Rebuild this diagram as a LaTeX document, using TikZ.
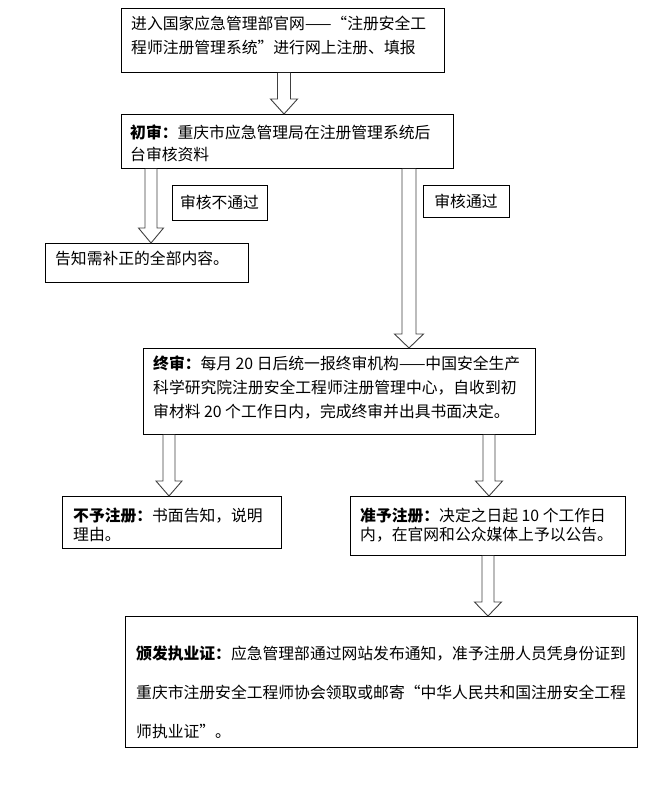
\documentclass[tikz,border=0pt]{standalone}
\usepackage{fontspec}
\setmainfont{Noto Sans CJK SC}
\usetikzlibrary{calc}
% #1 x centre, #2 source node, #3 target node, #4 shaft half width, #5 head half width, #6 head length
\newcommand\blockarr[6]{%
  \draw[barrow] let \p1=(#2.south), \p2=(#3.north) in
    ({(#1-#4)*1pt},\y1) -- ({(#1-#4)*1pt},{\y2+#6*1pt}) -- ({(#1-#5)*1pt},{\y2+#6*1pt})
    -- ({#1*1pt},\y2) -- ({(#1+#5)*1pt},{\y2+#6*1pt}) -- ({(#1+#4)*1pt},{\y2+#6*1pt})
    -- ({(#1+#4)*1pt},\y1);}
\begin{document}
\begin{tikzpicture}[x=1pt,y=-1pt,
  box/.style={draw, line width=0.9pt, inner sep=0pt, anchor=north west},
  txt/.style={inner sep=0pt, anchor=base west, align=left, font=\fontsize{15.8pt}{24pt}\selectfont},
  lbl/.style={draw, line width=0.9pt, inner sep=0pt, font=\fontsize{15.8pt}{20pt}\selectfont},
  barrow/.style={draw=black!75, line width=0.9pt, fill=white, line join=miter}]
\useasboundingbox (0,0) rectangle (652,796);
% boxes
\node[box, minimum width=323pt, minimum height=64pt] (b1) at (121,8) {};
\node[box, minimum width=332pt, minimum height=54pt] (b2) at (121,114) {};
\node[box, minimum width=203pt, minimum height=39pt] (b3) at (45,243) {};
\node[box, minimum width=392pt, minimum height=86pt] (b4) at (143,348) {};
\node[box, minimum width=219pt, minimum height=52pt] (b5) at (62,496) {};
\node[box, minimum width=275pt, minimum height=59pt] (b6) at (350,496) {};
\node[box, minimum width=512pt, minimum height=131pt] (b7) at (125,616) {};
% labels on arrows
\node[lbl, minimum width=95pt, minimum height=35pt] (l1) at (219.5,202.5) {审核不通过};
\node[lbl, minimum width=86pt, minimum height=32pt] (l2) at (466,201) {审核通过};
% texts (base = baseline of the last line)
\node[txt] (t1) at (131,53) {进入国家应急管理部官网——“注册安全工\\程师注册管理系统”进行网上注册、填报};
\node[txt, font=\fontsize{15.8pt}{22pt}\selectfont] (t2) at (130,160.5) {\textbf{初审：}重庆市应急管理局在注册管理系统后\\台审核资料};
\node[txt] (t3) at (55,264) {告知需补正的全部内容。};
\node[txt] (t4) at (153,417) {\textbf{终审：}每月 20 日后统一报终审机构——中国安全生产\\科学研究院注册安全工程师注册管理中心，自收到初\\审材料 20 个工作日内，完成终审并出具书面决定。};
\node[txt, font=\fontsize{15.8pt}{19pt}\selectfont] (t5) at (73,540) {\textbf{不予注册：}书面告知，说明\\理由。};
\node[txt, font=\fontsize{15.8pt}{19pt}\selectfont] (t6) at (360,540) {\textbf{准予注册：}决定之日起 10 个工作日\\内，在官网和公众媒体上予以公告。};
\node[txt, font=\fontsize{15.8pt}{39pt}\selectfont] (t7) at (136,737) {\textbf{颁发执业证：}应急管理部通过网站发布通知，准予注册人员凭身份证到\\重庆市注册安全工程师协会领取或邮寄“中华人民共和国注册安全工程\\师执业证”。};
% block arrows
\blockarr{284}{b1}{b2}{6.5}{13.5}{15}
\blockarr{151}{b2}{b3}{6}{12.5}{15}
\blockarr{409}{b2}{b4}{7}{14.5}{14}
\blockarr{169}{b4}{b5}{6}{13}{15}
\blockarr{489}{b4}{b6}{6}{13.5}{15}
\blockarr{488}{b6}{b7}{6}{13.5}{14}
\end{tikzpicture}
\end{document}
